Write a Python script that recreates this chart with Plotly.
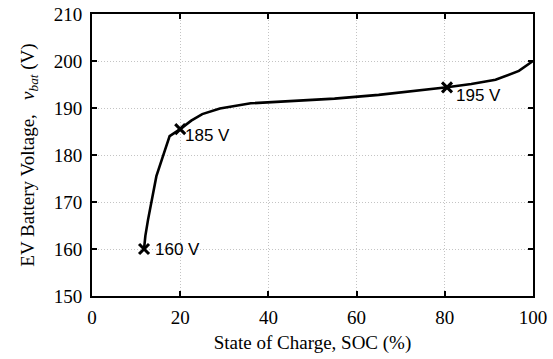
import plotly.graph_objects as go

soc = [11.8, 12.1, 12.7, 13.6, 14.6, 16.0, 17.6, 20.0, 22.5, 25.0, 29.0, 36.0, 47.0,
       55.0, 65.0, 72.0, 80.5, 86.0, 91.5, 96.8, 100.0]
vbat = [160.0, 162.8, 166.2, 171.0, 175.5, 179.5, 184.0, 185.5, 187.3, 188.7, 189.9,
        191.0, 191.6, 192.0, 192.8, 193.5, 194.4, 195.1, 196.0, 197.9, 200.0]

mark_soc = [11.8, 20.0, 80.5]
mark_v = [160.0, 185.5, 194.4]
mark_labels = ["160 V", "185 V", "195 V"]

x_ticks = [0, 20, 40, 60, 80, 100]
y_ticks = [150, 160, 170, 180, 190, 200, 210]

fig = go.Figure()
fig.add_trace(go.Scatter(x=soc, y=vbat, mode="lines",
                         line=dict(color="black", width=2.6), showlegend=False,
                         hoverinfo="skip"))
fig.add_trace(go.Scatter(x=mark_soc, y=mark_v, mode="markers",
                         marker=dict(symbol="x-thin-open", size=10, color="black",
                                     line=dict(color="black", width=3)),
                         showlegend=False))

label_shift = [(9, 0), (3, -6), (7, -8)]
for xs, ys, lab, (dx, dy) in zip(mark_soc, mark_v, mark_labels, label_shift):
    fig.add_annotation(x=xs, y=ys, text=lab, showarrow=False, xanchor="left", yanchor="middle",
                       xshift=dx, yshift=dy,
                       font=dict(family="Liberation Sans, Arial", size=17, color="black"))

axis_common = dict(showline=True, linecolor="black", linewidth=2, mirror="ticks",
                   ticks="inside", ticklen=5, tickwidth=2, tickcolor="black",
                   showgrid=True, gridcolor="#c4c4c4", griddash="1px,2px", gridwidth=1,
                   zeroline=False, automargin=False,
                   tickfont=dict(family="Liberation Serif, Times New Roman", size=19, color="black"),
                   title_font=dict(family="Liberation Serif, Times New Roman", size=19, color="black"))

fig.update_xaxes(range=[0, 100], tickvals=x_ticks, ticklabelstandoff=3,
                 title_text="State of Charge, SOC (%)", title_standoff=9, **axis_common)
fig.update_yaxes(range=[150, 210], tickvals=y_ticks, ticklabelstandoff=4,
                 title_text="EV Battery Voltage,\u00a0\u00a0\u00a0<i>v</i><sub><i>bat</i></sub> (V)",
                 title_standoff=14, **axis_common)

fig.update_layout(width=553, height=359, margin=dict(l=92, r=20, t=14, b=63),
                  plot_bgcolor="white", paper_bgcolor="white")

fig.write_html("out.html", config={"displayModeBar": False},
               post_script="document.body.style.margin='0';")
